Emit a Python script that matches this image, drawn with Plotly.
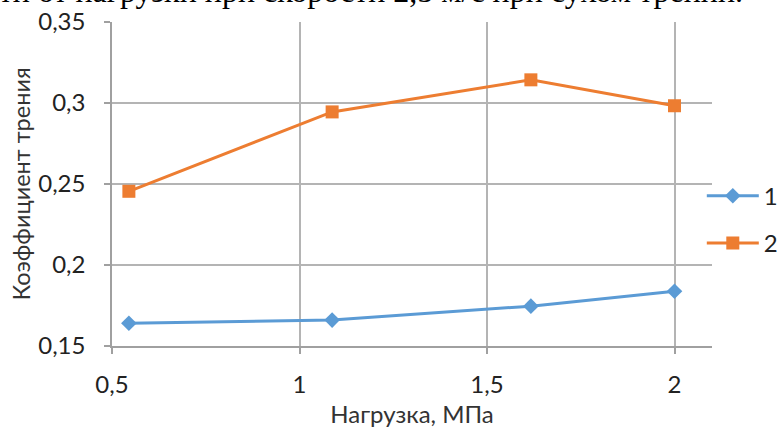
import plotly.graph_objects as go

load = [0.545, 1.087, 1.617, 2.0]
series1 = [0.164, 0.166, 0.1746, 0.1838]
series2 = [0.2455, 0.2945, 0.3143, 0.2983]
names = ["1", "2"]
x_ticks = [0.5, 1, 1.5, 2]
x_ticklabels = ["0,5", "1", "1,5", "2"]
y_ticks = [0.15, 0.2, 0.25, 0.3, 0.35]
y_ticklabels = ["0,15", "0,2", "0,25", "0,3", "0,35"]
caption = "в зависимости от нагрузки при скорости 2,5 м/с при сухом трении."

FONT = "Lato"
GRID = "#b4b4b4"
TXT = "#222"

fig = go.Figure()
fig.add_trace(go.Scatter(x=load, y=series1, name=names[0], mode="lines+markers",
                         legendgroup="a",
                         line=dict(color="#5B9BD5", width=3),
                         marker=dict(symbol="diamond", size=12, color="#5B9BD5")))
fig.add_trace(go.Scatter(x=load, y=series2, name=names[1], mode="lines+markers",
                         legendgroup="b",
                         line=dict(color="#ED7D31", width=3),
                         marker=dict(symbol="square", size=13, color="#ED7D31")))

axis_common = dict(showgrid=True, gridcolor=GRID, gridwidth=1.5,
                   showline=True, linecolor="#a0a0a0", linewidth=1.5,
                   ticks="outside", ticklen=6, tickcolor="#a0a0a0", tickwidth=1.5,
                   zeroline=False, automargin=False,
                   tickfont=dict(family=FONT, size=24, color=TXT))

fig.update_xaxes(range=[0.5, 2.1], tickvals=x_ticks, ticktext=x_ticklabels,
                 ticklabelstandoff=10,
                 title=dict(text="Нагрузка, МПа", font=dict(family=FONT, size=24, color="#333"), standoff=10),
                 **axis_common)
fig.update_yaxes(range=[0.15, 0.35], tickvals=y_ticks, ticktext=y_ticklabels,
                 ticklabelstandoff=14,
                 title=dict(text="Коэффициент трения", font=dict(family=FONT, size=23.5, color="#333"), standoff=1),
                 **axis_common)

fig.add_annotation(text=caption, xref="paper", yref="paper", x=1.055, y=1.0,
                   xanchor="right", yanchor="bottom", yshift=11, showarrow=False,
                   font=dict(family="Liberation Serif", size=32, color="#000"))

fig.update_layout(
    width=781, height=432,
    margin=dict(l=112, r=69, t=22, b=86, autoexpand=False),
    paper_bgcolor="white", plot_bgcolor="white",
    showlegend=True,
    legend=dict(x=0.983, y=0.39, xanchor="left", yanchor="middle",
                font=dict(family=FONT, size=24, color=TXT),
                tracegroupgap=13, itemwidth=52, bgcolor="rgba(0,0,0,0)"),
)

fig.write_html("out.html", config={"displayModeBar": False},
               post_script="document.body.style.margin='0';"
                           "document.body.style.overflow='hidden';"
                           "document.documentElement.style.overflow='hidden';")
